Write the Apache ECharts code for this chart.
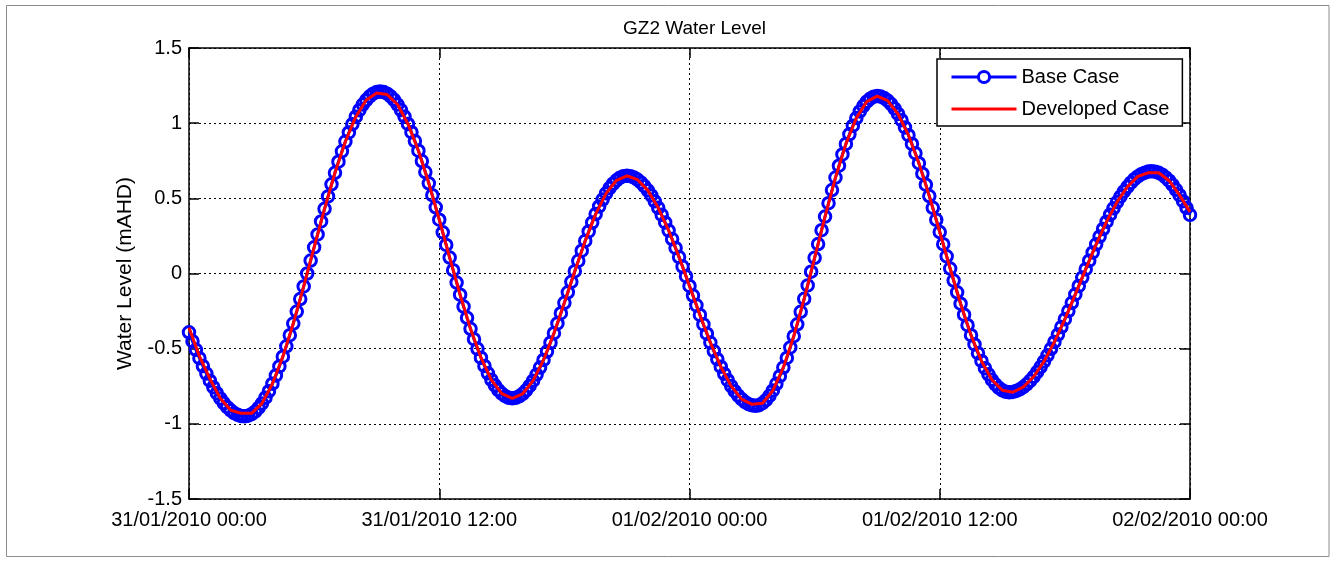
<!DOCTYPE html>
<html><head><meta charset="utf-8">
<script src="https://cdn.jsdelivr.net/npm/echarts@6/dist/echarts.min.js"></script>
<style>html,body{margin:0;padding:0;background:#fff}#c{width:1337px;height:563px}</style>
</head><body><div id="c"></div>
<script>
// ---- data ----
const chartTitle = 'GZ2 Water Level';
const yAxisTitle = 'Water Level (mAHD)';
const seriesNames = ['Base Case', 'Developed Case'];
// x tick labels at 0,12,24,36,48 hours from 31/01/2010 00:00
const xTickLabels = ['31/01/2010 00:00', '31/01/2010 12:00', '01/02/2010 00:00', '01/02/2010 12:00', '02/02/2010 00:00'];
const baseStepHours = 10 / 60;       // base case sampled every 10 minutes
const developedStepHours = 30 / 60;  // developed case sampled every 30 minutes
const baseLevel = [
-0.391,-0.450,-0.508,-0.563,-0.616,-0.666,-0.713,-0.756,-0.796,-0.831,-0.862,-0.889,-0.910,-0.928,-0.940,-0.948,-0.950,
-0.946,-0.936,-0.919,-0.894,-0.864,-0.826,-0.783,-0.733,-0.678,-0.618,-0.553,-0.484,-0.410,-0.333,-0.253,-0.170,-0.086,0.000,0.086,0.174,0.260,0.346,0.430,0.513,0.593,0.670,0.744,0.813,0.878,0.938,0.993,1.043,1.086,1.124,1.154,1.179,1.196,1.207,1.210,
1.207,1.196,1.179,1.155,1.124,1.087,1.044,0.995,0.940,0.881,0.817,0.748,0.675,0.600,0.521,0.440,0.358,0.274,0.190,0.106,0.022,-0.060,-0.141,-0.220,-0.295,-0.368,-0.437,-0.501,-0.560,-0.615,-0.664,-0.707,-0.744,-0.775,-0.799,-0.816,-0.827,-0.830,
-0.827,-0.817,-0.800,-0.777,-0.748,-0.713,-0.672,-0.626,-0.575,-0.519,-0.460,-0.397,-0.332,-0.264,-0.195,-0.125,-0.055,0.015,0.084,0.152,0.217,0.280,0.339,0.395,0.446,0.492,0.533,0.568,0.597,0.620,0.637,0.647,0.650,
0.647,0.639,0.625,0.606,0.582,0.553,0.519,0.480,0.437,0.390,0.340,0.286,0.229,0.170,0.109,0.046,-0.018,-0.083,-0.147,-0.212,-0.276,-0.339,-0.400,-0.459,-0.516,-0.570,-0.620,-0.667,-0.710,-0.749,-0.783,-0.812,-0.836,-0.855,-0.869,-0.877,-0.880,
-0.876,-0.863,-0.843,-0.814,-0.778,-0.734,-0.683,-0.626,-0.562,-0.492,-0.417,-0.338,-0.255,-0.168,-0.079,0.012,0.104,0.196,0.288,0.379,0.468,0.555,0.638,0.717,0.792,0.862,0.926,0.983,1.034,1.078,1.114,1.143,1.163,1.176,1.180,
1.177,1.167,1.150,1.127,1.097,1.061,1.020,0.972,0.920,0.862,0.800,0.734,0.664,0.591,0.515,0.437,0.357,0.276,0.195,0.114,0.033,-0.047,-0.125,-0.201,-0.274,-0.344,-0.410,-0.472,-0.530,-0.582,-0.630,-0.671,-0.707,-0.737,-0.760,-0.777,-0.787,-0.790,
-0.788,-0.781,-0.771,-0.756,-0.737,-0.714,-0.687,-0.656,-0.622,-0.585,-0.544,-0.501,-0.455,-0.406,-0.356,-0.304,-0.250,-0.195,-0.139,-0.083,-0.027,0.029,0.085,0.140,0.194,0.246,0.296,0.345,0.391,0.434,0.475,0.512,0.546,0.577,0.604,0.627,0.646,0.661,0.671,0.678,0.680,
0.677,0.670,0.657,0.639,0.617,0.589,0.557,0.521,0.481,0.437,0.390
];
const developedLevel = [
-0.36,-0.55,-0.70,-0.83,-0.91,-0.93,-0.93,-0.864,-0.733,-0.553,-0.333,-0.086,0.174,0.430,0.670,0.878,1.043,1.154,1.20,1.19,
1.124,0.995,0.817,0.600,0.358,0.106,-0.141,-0.368,-0.560,-0.707,-0.799,-0.83,
-0.800,-0.713,-0.575,-0.397,-0.195,0.015,0.217,0.395,0.533,0.620,0.65,
0.625,0.553,0.437,0.286,0.109,-0.083,-0.276,-0.459,-0.620,-0.749,-0.836,-0.87,
-0.863,-0.778,-0.626,-0.417,-0.168,0.104,0.379,0.638,0.862,1.034,1.143,1.18,
1.150,1.061,0.920,0.734,0.515,0.276,0.033,-0.201,-0.410,-0.582,-0.707,-0.777,-0.79,
-0.756,-0.687,-0.585,-0.455,-0.304,-0.139,0.029,0.194,0.345,0.475,0.577,0.646,0.67,
0.670,0.617,0.521,0.41
];

// ---- chart ----
const FONT = "'Liberation Sans', Arial, Helvetica, sans-serif";
const chart = echarts.init(document.getElementById('c'), null, {renderer: 'canvas'});
const gridLine = {show: true, lineStyle: {color: '#000', width: 1, type: [2, 3]}};
const axisLine = {show: true, onZero: false, lineStyle: {color: '#000', width: 1.5}};
const ticksIn = {show: true, inside: true, length: 10, lineStyle: {color: '#000', width: 1.5}};
const xTick = 12;

chart.setOption({
  animation: false,
  backgroundColor: '#fff',
  textStyle: {fontFamily: FONT},
  graphic: [{
    type: 'rect', silent: true, z: -10,
    shape: {x: 6.5, y: 5.5, width: 1322.5, height: 551},
    style: {fill: '#fff', stroke: '#8c8c8c', lineWidth: 1}
  }],
  title: {
    text: chartTitle, left: 689.5, top: 14, textAlign: 'center',
    textStyle: {fontFamily: FONT, fontSize: 19, fontWeight: 'normal', color: '#000'}
  },
  legend: {
    left: 937, top: 59, orient: 'vertical',
    data: [
      {name: seriesNames[0], itemStyle: {color: '#ffffff', borderColor: '#0000ff', borderWidth: 3}},
      {name: seriesNames[1]}
    ],
    itemWidth: 65, itemHeight: 14, itemGap: 12, itemTextGap: 7,
    padding: [8, 13, 7, 13],
    lineStyle: {width: 3},
    borderColor: '#000', borderWidth: 1.5, backgroundColor: '#fff',
    textStyle: {fontFamily: FONT, fontSize: 20, color: '#000'}
  },
  grid: {left: 189, right: 147, top: 48, bottom: 64, containLabel: false},
  xAxis: [{
    type: 'value', min: 0, max: 48, interval: xTick, position: 'bottom',
    axisLine: axisLine, axisTick: ticksIn, splitLine: gridLine,
    axisLabel: {
      margin: 11, fontSize: 20, color: '#000', fontFamily: FONT,
      formatter: v => xTickLabels[Math.round(v / xTick)] || ''
    }
  }, {
    type: 'value', min: 0, max: 48, interval: xTick, position: 'top',
    axisLine: axisLine, axisTick: ticksIn, splitLine: {show: false}, axisLabel: {show: false}
  }],
  yAxis: [{
    type: 'value', min: -1.5, max: 1.5, interval: 0.5, position: 'left',
    name: yAxisTitle, nameLocation: 'middle', nameGap: 53,
    nameTextStyle: {fontFamily: FONT, fontSize: 21, color: '#000'},
    axisLine: axisLine, axisTick: ticksIn, splitLine: gridLine,
    axisLabel: {margin: 7, fontSize: 20, color: '#000', fontFamily: FONT, padding: [10, 0, 0, 0]}
  }, {
    type: 'value', min: -1.5, max: 1.5, interval: 0.5, position: 'right',
    axisLine: axisLine, axisTick: ticksIn, splitLine: {show: false}, axisLabel: {show: false}
  }],
  series: [{
    name: seriesNames[0], type: 'line',
    data: baseLevel.map((v, i) => [i * baseStepHours, v]),
    symbol: 'circle', symbolSize: 11.5, showSymbol: true, showAllSymbol: true,
    lineStyle: {color: '#0000ff', width: 3},
    itemStyle: {color: '#ffffff00', borderColor: '#0000ff', borderWidth: 3},
    emphasis: {disabled: true}, z: 2
  }, {
    name: seriesNames[1], type: 'line',
    data: developedLevel.map((v, i) => [i * developedStepHours, v]),
    showSymbol: false, symbol: 'none',
    lineStyle: {color: '#ff0000', width: 3},
    itemStyle: {color: '#ff0000', opacity: 0},
    emphasis: {disabled: true}, z: 3
  }]
});
</script></body></html>
